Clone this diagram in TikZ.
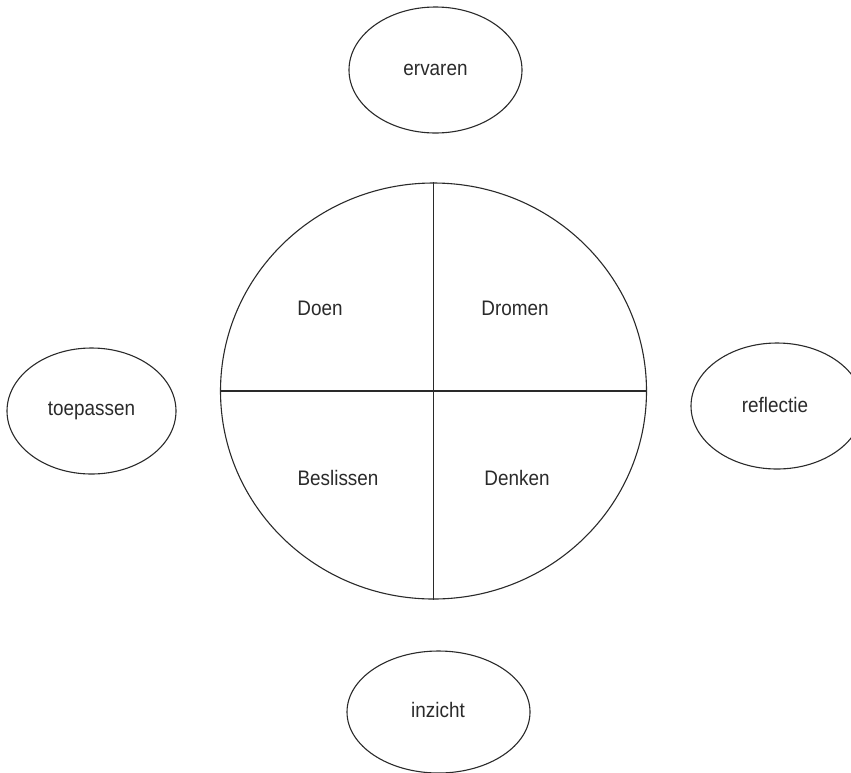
\documentclass[tikz,border=0pt]{standalone}
\usepackage{fontspec}
\setmainfont{Liberation Sans}[FakeStretch=0.9]
\usetikzlibrary{shapes.geometric}
\definecolor{ink}{HTML}{2A2A2A}
\tikzset{
  oval/.style={draw=ink, line width=1.1pt, ellipse, inner sep=0pt},
  lbl/.style={text=ink, font=\fontsize{21pt}{24pt}\selectfont, inner sep=0pt},
  divider/.style={draw=ink, line width=1.1pt}
}
\begin{document}
\begin{tikzpicture}[x=1pt,y=-1pt]
\useasboundingbox (0,0) rectangle (851,772);
\clip (0,0) rectangle (851,772);
\node[oval, minimum width=426pt, minimum height=416pt] (big) at (433.5,391) {};
\draw[divider] (big.north) -- (big.south);
\draw[divider] (big.west) -- (big.east);
\node[lbl] (doen) at (320,308) {Doen};
\node[lbl] (dromen) at (515,308) {Dromen};
\node[lbl] (beslissen) at (338,478) {Beslissen};
\node[lbl] (denken) at (517,478) {Denken};
\node[oval, minimum width=173pt, minimum height=126pt] (ervaren) at (435.5,70) {};
\node[lbl] at (ervaren.center) {ervaren};
\node[oval, minimum width=169pt, minimum height=126pt] (toepassen) at (91.5,411) {};
\node[lbl] at (toepassen.center) {toepassen};
\node[oval, minimum width=172pt, minimum height=126pt] (reflectie) at (777,406) {};
\node[lbl] at (775,405) {reflectie};
\node[oval, minimum width=183pt, minimum height=122pt] (inzicht) at (438.5,712) {};
\node[lbl] at (438,710) {inzicht};
\end{tikzpicture}
\end{document}
